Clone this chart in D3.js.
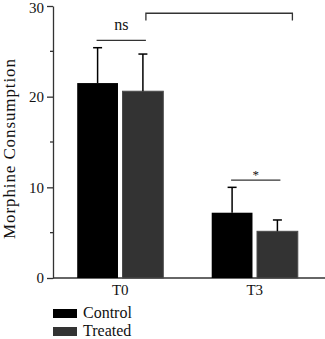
<!DOCTYPE html>
<html>
<head>
<meta charset="utf-8">
<script src="https://cdn.jsdelivr.net/npm/d3@7"></script>
<style>
  body { margin: 0; background: #fff; }
</style>
</head>
<body>
<div class="chart"></div>
<script>
var groups = ["T0", "T3"];
var series = ["Control", "Treated"];
var controlMean = [21.5, 7.2];
var controlErr = [3.9, 2.8];
var treatedMean = [20.6, 5.15];
var treatedErr = [4.1, 1.25];
var majorTicks = [0, 10, 20, 30];
var minorTicks = [5, 15, 25];
var colours = { Control: "#000000", Treated: "#333333" };

var serif = "'Liberation Serif', 'Times New Roman', 'DejaVu Serif', serif";

var width = 325, height = 339;
var margin = { top: 6, right: 3, bottom: 61, left: 53 };

var svg = d3.select(".chart").append("svg")
  .attr("width", width)
  .attr("height", height);

var data = [];
groups.forEach((g, i) => {
  data.push({ group: g, name: "Control", value: controlMean[i], err: controlErr[i] });
  data.push({ group: g, name: "Treated", value: treatedMean[i], err: treatedErr[i] });
});

var x = d3.scaleBand()
  .domain(groups)
  .range([margin.left, width - margin.right])
  .paddingInner(0.36)
  .paddingOuter(0.18);

var xSub = d3.scaleBand()
  .domain(series)
  .range([0, x.bandwidth()])
  .paddingInner(0.1);

var y = d3.scaleLinear()
  .domain([0, 30])
  .range([height - margin.bottom, margin.top]);

// y axis
var yAxis = svg.append("g")
  .attr("transform", `translate(${margin.left},0)`)
  .call(d3.axisLeft(y).tickValues(majorTicks).tickSize(6).tickPadding(3).tickSizeOuter(0));
yAxis.select(".domain").attr("stroke", "#333").attr("stroke-width", 1.3);
yAxis.selectAll(".tick line").attr("stroke", "#333").attr("stroke-width", 1.3);
yAxis.selectAll(".tick text")
  .style("font-family", serif)
  .style("font-size", "15px")
  .attr("fill", "#111")
  .attr("dy", d => d == 30 ? "0.42em" : "0.32em");

svg.append("g")
  .selectAll("line")
  .data(minorTicks)
  .enter()
  .append("line")
  .attr("x1", margin.left - 3)
  .attr("x2", margin.left)
  .attr("y1", d => y(d))
  .attr("y2", d => y(d))
  .attr("stroke", "#333")
  .attr("stroke-width", 1.3);

// x axis
var xAxis = svg.append("g")
  .attr("transform", `translate(0,${y(0)})`)
  .call(d3.axisBottom(x).tickSize(0).tickPadding(6).tickSizeOuter(0));
xAxis.select(".domain").attr("stroke", "#333").attr("stroke-width", 1.3)
  .attr("d", `M${margin.left},0H${width}`);
xAxis.selectAll(".tick text")
  .style("font-family", serif)
  .style("font-size", "15px")
  .attr("fill", "#111");

// bars
svg.selectAll("rect.bar")
  .data(data)
  .enter()
  .append("rect")
  .attr("class", "bar")
  .attr("x", d => x(d.group) + xSub(d.name))
  .attr("width", xSub.bandwidth())
  .attr("y", d => y(d.value))
  .attr("height", d => y(0) - y(d.value))
  .style("fill", d => colours[d.name])
  .style("stroke", d => d.name == "Treated" ? "#4a4a4a" : "none")
  .style("stroke-width", 1);

// error bars
var cx = d => x(d.group) + xSub(d.name) + xSub.bandwidth() / 2;
svg.selectAll("line.err")
  .data(data)
  .enter()
  .append("line")
  .attr("x1", cx).attr("x2", cx)
  .attr("y1", d => y(d.value))
  .attr("y2", d => y(d.value + d.err))
  .attr("stroke", "#000")
  .attr("stroke-width", 1.5);

svg.selectAll("line.cap")
  .data(data)
  .enter()
  .append("line")
  .attr("x1", d => cx(d) - 4.5).attr("x2", d => cx(d) + 4.5)
  .attr("y1", d => y(d.value + d.err))
  .attr("y2", d => y(d.value + d.err))
  .attr("stroke", "#000")
  .attr("stroke-width", 1.5);

// significance marks
var ctrlCenter = g => x(g) + xSub("Control") + xSub.bandwidth() / 2;
var trtCenter = g => x(g) + xSub("Treated") + xSub.bandwidth() / 2;

function sigLine(g, level, label) {
  var x1 = ctrlCenter(g) - 1, x2 = trtCenter(g) + 3;
  svg.append("line")
    .attr("x1", x1).attr("x2", x2)
    .attr("y1", y(level)).attr("y2", y(level))
    .attr("stroke", "#333").attr("stroke-width", 1.3);
  svg.append("text")
    .attr("x", (x1 + x2) / 2)
    .attr("y", y(level) - (label == "*" ? 1 : 10))
    .style("text-anchor", "middle")
    .style("font-family", serif)
    .style("font-size", label == "*" ? "13px" : "16px")
    .attr("fill", "#111")
    .text(label);
}
sigLine("T0", 26.2, "ns");
sigLine("T3", 10.8, "*");

// bracket between groups
var bx1 = trtCenter("T0") + 3, bx2 = trtCenter("T3") + 15;
svg.append("path")
  .attr("d", `M${bx1},${y(28.4)}V${y(29.2)}H${bx2}V${y(28.4)}`)
  .attr("fill", "none")
  .attr("stroke", "#333")
  .attr("stroke-width", 1.3);

// y label
svg.append("text")
  .attr("transform", `translate(15,${(y(0) + y(30)) / 2 + 7}) rotate(-90)`)
  .style("text-anchor", "middle")
  .style("font-family", serif)
  .style("font-size", "17px")
  .attr("fill", "#111")
  .attr("textLength", 180)
  .attr("lengthAdjust", "spacing")
  .text("Morphine Consumption");

// legend
var legend = svg.selectAll("g.legend")
  .data(series)
  .enter()
  .append("g")
  .attr("class", "legend")
  .attr("transform", (d, i) => `translate(53,${309 + i * 18})`);

legend.append("rect")
  .attr("width", 24)
  .attr("height", 9)
  .style("fill", d => colours[d]);

legend.append("text")
  .attr("x", 30)
  .attr("y", 9)
  .style("font-family", serif)
  .style("font-size", "16px")
  .attr("fill", "#111")
  .text(d => d);
</script>
</body>
</html>
